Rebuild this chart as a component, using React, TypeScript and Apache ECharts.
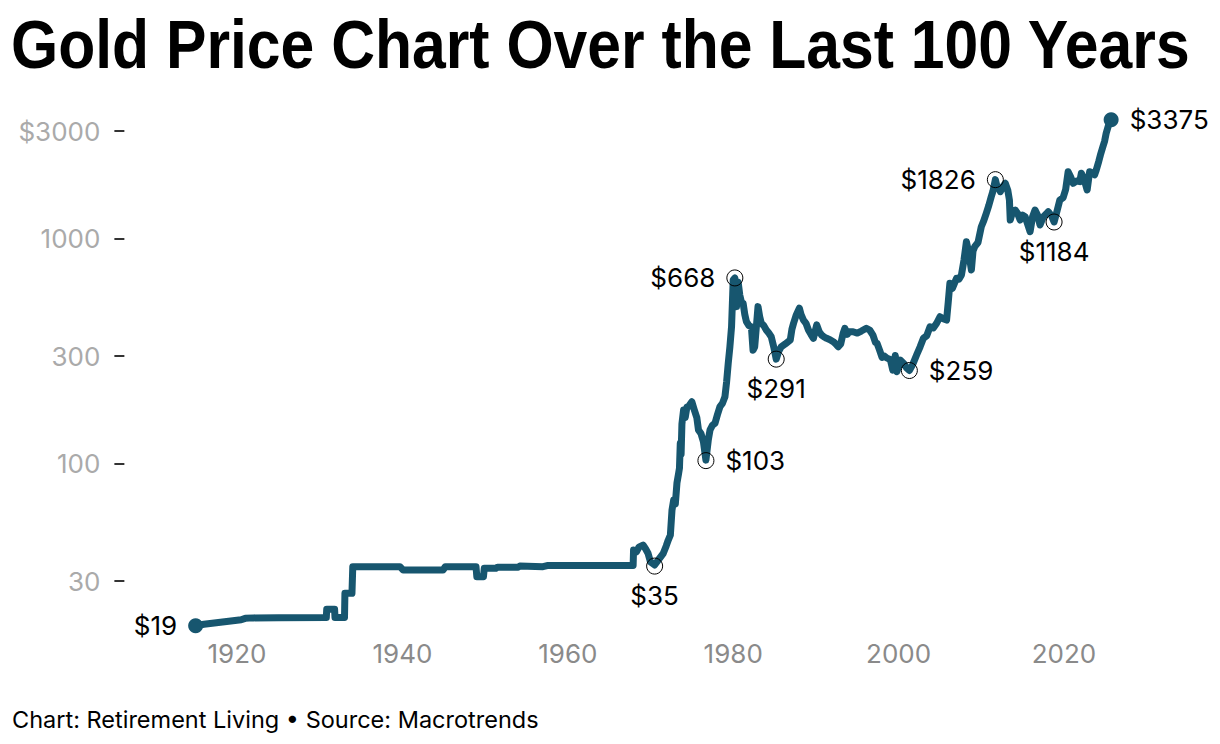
import React, { useEffect, useRef } from "react";
import * as echarts from "echarts";

const TITLE = "Gold Price Chart Over the Last 100 Years";
const FOOTER = "Chart: Retirement Living • Source: Macrotrends";
const X_TICKS = [1920, 1940, 1960, 1980, 2000, 2020];
const Y_TICKS = [30, 100, 300, 1000, 3000];

const years = [
  1915.0, 1916.0, 1917.0, 1918.0, 1919.0, 1920.0, 1920.5, 1921.0, 1922.0, 1925.0,
  1930.8, 1930.85, 1931.8, 1931.85, 1933.0, 1933.05, 1933.9, 1934.0, 1939.7, 1940.1,
  1944.9, 1945.2, 1948.9, 1949.0, 1949.8, 1949.9, 1951.3, 1951.5, 1954.0, 1954.2,
  1957.0, 1957.5, 1967.9, 1967.95, 1968.3, 1968.6, 1969.1, 1969.4, 1969.7, 1970.0,
  1970.5, 1971.0, 1971.55, 1971.9, 1972.15, 1972.4, 1972.6, 1972.8, 1973.0, 1973.2,
  1973.4, 1973.5, 1973.6, 1973.7, 1973.8, 1974.0, 1974.2, 1974.4, 1974.6, 1975.0,
  1975.3, 1975.6, 1975.8, 1976.1, 1976.4, 1976.7, 1977.0, 1977.2, 1977.5, 1977.8,
  1978.1, 1978.4, 1978.7, 1979.0, 1979.2, 1979.4, 1979.6, 1979.8, 1980.0, 1980.2,
  1980.3, 1980.4, 1980.5, 1980.6, 1980.8, 1981.0, 1981.2, 1981.4, 1981.6, 1981.9,
  1982.2, 1982.4, 1982.6, 1982.8, 1983.0, 1983.2, 1983.4, 1983.7, 1984.0, 1984.3,
  1984.6, 1984.9, 1985.2, 1985.5, 1985.8, 1986.3, 1986.9, 1987.1, 1987.3, 1987.6,
  1988.0, 1988.2, 1988.5, 1988.8, 1989.1, 1989.4, 1989.7, 1990.1, 1990.4, 1990.7,
  1991.0, 1991.3, 1991.7, 1992.1, 1992.4, 1992.7, 1993.0, 1993.3, 1993.5, 1993.8,
  1994.0, 1994.5, 1995.0, 1995.5, 1996.1, 1996.5, 1996.9, 1997.2, 1997.4, 1997.7,
  1998.0, 1998.3, 1998.6, 1999.0, 1999.3, 1999.6, 1999.8, 2000.2, 2000.6, 2001.0,
  2001.3, 2001.7, 2002.2, 2002.6, 2003.0, 2003.4, 2003.8, 2004.2, 2004.6, 2005.0,
  2005.4, 2005.8, 2006.0, 2006.2, 2006.5, 2007.0, 2007.3, 2007.6, 2007.9, 2008.2,
  2008.5, 2008.8, 2009.0, 2009.2, 2009.6, 2010.0, 2010.3, 2010.6, 2010.9, 2011.2,
  2011.4, 2011.7, 2011.9, 2012.1, 2012.3, 2012.6, 2012.9, 2013.2, 2013.4, 2013.5,
  2013.8, 2014.1, 2014.4, 2014.7, 2015.0, 2015.3, 2015.6, 2015.9, 2016.2, 2016.5,
  2016.8, 2017.1, 2017.5, 2017.8, 2018.1, 2018.5, 2018.8, 2019.1, 2019.5, 2019.9,
  2020.2, 2020.5, 2020.8, 2021.1, 2021.5, 2021.9, 2022.1, 2022.4, 2022.8, 2023.1,
  2023.4, 2023.7, 2023.9, 2024.2, 2024.4, 2024.7, 2024.9, 2025.1, 2025.4, 2025.7,
];

const prices = [
  19.0, 19.3, 19.5, 19.7, 19.9, 20.1, 20.2, 20.5, 20.6, 20.64,
  20.67, 22.5, 22.5, 20.67, 20.67, 26.5, 26.5, 34.8, 34.8, 33.6,
  33.6, 34.8, 34.8, 31.4, 31.4, 34.2, 34.2, 34.6, 34.6, 35.0,
  34.8, 35.2, 35.2, 41.3, 40.5, 42.5, 43.4, 41.8, 39.9, 36.5,
  35.4, 37.5, 39.9, 43.0, 45.7, 48.0, 62.1, 68.8, 66.0, 82.0,
  90.4, 95.2, 123, 110, 150, 173, 160, 178, 179, 188,
  173, 160, 141, 136, 125, 103.5, 128, 141, 148, 151,
  165, 179, 185, 198, 230, 279, 330, 405, 654, 668,
  560, 498, 620, 640, 560, 520, 515, 460, 427, 410,
  405, 319, 330, 405, 498, 450, 420, 410, 392, 380,
  366, 330, 291, 315, 330, 340, 354, 395, 420, 455,
  490, 460, 434, 420, 392, 375, 360, 413, 385, 372,
  365, 360, 355, 348, 340, 330, 340, 380, 399, 375,
  385, 385, 380, 388, 399, 392, 372, 345, 342, 319,
  296, 300, 294, 290, 260, 302, 256, 288, 279, 265,
  259, 275, 305, 330, 360, 370, 405, 400, 420, 449,
  440, 434, 520, 632, 600, 665, 660, 689, 800, 968,
  860, 724, 880, 920, 960, 1128, 1200, 1294, 1400, 1534,
  1620, 1826, 1700, 1680, 1615, 1700, 1760, 1640, 1483, 1208,
  1320, 1338, 1290, 1208, 1270, 1250, 1160, 1072, 1250, 1338,
  1270, 1148, 1250, 1280, 1315, 1260, 1184, 1300, 1483, 1520,
  1650, 1982, 1880, 1760, 1800, 1790, 1949, 1850, 1643, 1982,
  1960, 1920, 2016, 2200, 2350, 2558, 2700, 2935, 3200, 3375,
];

const annYears = [1915.0, 1970.5, 1976.7, 1980.2, 1985.2, 2001.3, 2011.7, 2018.8, 2025.7];
const annPrices = [19, 35, 103, 668, 291, 259, 1826, 1184, 3375];
const annLabels = ["$19", "$35", "$103", "$668", "$291", "$259", "$1826", "$1184", "$3375"];
const annPositions = ["left", "bottom", "right", "left", "bottom", "right", "left", "bottom", "right"];
const annFilled = [true, false, false, false, false, false, false, false, true];

const LINE_COLOR = "#17566f";
const FONT = "Inter, 'Noto Sans', sans-serif";

export default function App() {
  const ref = useRef<HTMLDivElement>(null);

  useEffect(() => {
    document.body.style.margin = "0";
    const chart = echarts.init(ref.current!, null, { renderer: "svg" });

    const lineData = years.map((y, i) => [y, prices[i]]);
    const annData = annYears.map((y, i) => {
      const filled = annFilled[i];
      return {
        value: [y, annPrices[i]],
        symbolSize: filled ? 15 : 16,
        itemStyle: filled
          ? { color: LINE_COLOR, borderWidth: 0, opacity: 1 }
          : { color: "rgba(0,0,0,0)", borderColor: "#000", borderWidth: 1, opacity: 1 },
        label: {
          show: true,
          formatter: annLabels[i],
          position: annPositions[i],
          distance: annPositions[i] === "bottom" ? 8 : 11,
          fontSize: 26,
          fontFamily: FONT,
          color: "#000",
          opacity: 1,
        },
      };
    });

    chart.setOption({
      animation: false,
      backgroundColor: "#fff",
      grid: { left: 187.38, right: 89.84, top: 103.04, bottom: 95.12, containLabel: false },
      xAxis: {
        type: "value",
        min: 1914,
        max: 2028,
        axisLine: { show: false },
        axisTick: { show: false },
        splitLine: { show: false },
        axisLabel: {
          customValues: X_TICKS,
          fontSize: 26,
          fontFamily: FONT,
          color: "#8a8a8a",
          margin: 5,
          verticalAlign: "middle",
          formatter: (v: number) => String(v),
        },
      },
      yAxis: {
        type: "log",
        logBase: 10,
        min: 15,
        max: 4000,
        offset: 63,
        axisLine: { show: false },
        splitLine: { show: false },
        axisTick: {
          show: true,
          customValues: Y_TICKS,
          length: 10,
          lineStyle: { color: "#333", width: 2 },
        },
        axisLabel: {
          customValues: Y_TICKS,
          fontSize: 26,
          fontFamily: FONT,
          color: "#aaaaaa",
          margin: 24,
          formatter: (v: number) => (Math.round(v) === 3000 ? "$3000" : String(Math.round(v))),
        },
      },
      graphic: [
        {
          type: "text",
          x: 11,
          y: 44.7,
          scaleX: 0.892,
          scaleY: 1,
          style: {
            text: TITLE,
            font: "bold 68px 'Liberation Sans', Arial, sans-serif",
            fill: "#000",
            align: "left",
            verticalAlign: "middle",
            textAlign: "left",
            textVerticalAlign: "middle",
          },
        },
        {
          type: "text",
          x: 12,
          y: 719,
          style: {
            text: FOOTER,
            font: "23.5px Inter, 'Noto Sans', sans-serif",
            fill: "#000",
            align: "left",
            verticalAlign: "middle",
            textAlign: "left",
            textVerticalAlign: "middle",
          },
        },
      ],
      series: [
        {
          type: "line",
          data: lineData,
          showSymbol: false,
          symbol: "none",
          lineStyle: { color: LINE_COLOR, width: 7, join: "round", cap: "round" },
          z: 2,
        },
        {
          type: "scatter",
          data: annData,
          itemStyle: { opacity: 1 },
          z: 3,
        },
      ],
    });

    return () => chart.dispose();
  }, []);

  return <div ref={ref} style={{ width: 1220, height: 744 }} />;
}
